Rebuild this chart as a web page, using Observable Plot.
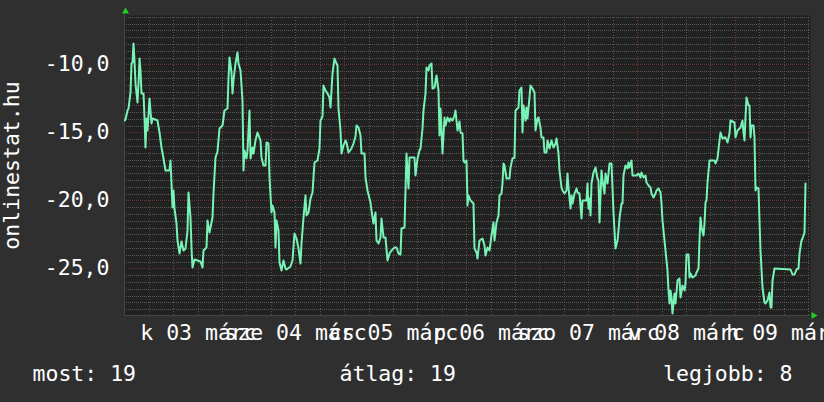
<!DOCTYPE html>
<html>
<head>
<meta charset="utf-8">
<script src="https://cdn.jsdelivr.net/npm/d3@7"></script>
<script src="https://cdn.jsdelivr.net/npm/@observablehq/plot@0.6"></script>
<style>
  html, body { margin: 0; padding: 0; background: #2f2f2f; }
  #chart { width: 824px; height: 402px; }
</style>
</head>
<body>
<div id="chart"></div>
<script>
// ---- data (hours since 2009-03-02 17:56 UTC, value) ----
const startMs = Date.UTC(2009, 2, 2, 17, 56);
const spanHours = 168.52;

const hours = [
  0.0, 0.25, 0.66, 1.07, 1.48, 1.72, 2.05, 2.30, 2.54, 2.70, 3.11, 3.36, 3.69, 3.93, 4.18, 4.75, 5.00, 5.16, 5.41, 5.73,
  6.23, 6.55, 6.96, 8.19, 8.68, 9.01, 9.50, 10.07, 11.06, 11.30, 11.71, 11.96, 12.37, 12.78, 13.10, 13.59, 14.00, 14.41, 14.99, 15.40,
  15.81, 16.21, 16.46, 16.79, 17.20, 18.67, 19.08, 19.49, 20.06, 20.47, 20.96, 21.54, 21.95, 22.36, 22.93, 23.42, 23.99, 24.57, 25.22, 25.63,
  25.88, 26.20, 26.45, 26.86, 27.27, 27.68, 28.09, 28.50, 28.91, 29.15, 29.48, 29.97, 30.30, 30.63, 30.95, 31.36, 31.77, 32.18, 32.59,
  33.33, 33.74, 34.15, 34.72, 34.97, 35.38, 35.62, 36.03, 36.36, 36.77, 37.01, 37.42, 37.83, 38.08, 38.65, 39.06, 39.47, 39.88, 40.70, 41.27,
  41.76, 42.34, 42.75, 43.16, 43.56, 43.97, 44.38, 44.79, 45.20, 45.61, 46.18, 46.68, 47.49, 47.82, 48.07, 48.64, 48.97, 49.46, 49.87, 50.28,
  50.69, 51.10, 51.59, 52.00, 52.41, 52.57, 52.98, 53.23, 53.80, 54.21, 54.62, 55.03, 55.68, 56.26, 56.67, 57.07, 57.48, 57.89, 58.30, 58.96,
  59.28, 59.78, 60.35, 60.76, 61.17, 61.58, 61.99, 62.40, 62.89, 63.22, 63.71, 64.20, 64.53, 65.02, 65.67, 66.33,
  66.83, 67.24, 67.81, 68.06, 68.88, 69.29, 69.70, 69.94, 71.33, 71.58, 71.99, 72.40, 72.73, 73.13, 73.54, 73.87, 74.20, 74.61, 75.02, 75.35,
  75.67, 76.25, 76.66, 77.07, 77.31, 77.64, 77.97, 78.21, 78.54, 78.95, 79.36, 79.77, 80.18, 80.59, 81.00, 81.40, 81.81, 82.22, 82.63, 82.96,
  83.21, 83.62, 84.02, 84.27, 84.60, 85.01, 85.66, 86.07, 86.48, 86.81, 87.30, 87.96, 88.53, 88.77, 89.10, 89.59, 90.17, 90.58, 90.98, 91.39,
  91.80, 92.05, 92.62, 92.87, 93.03, 93.44, 93.85, 94.51, 94.83, 95.32, 95.73, 96.14, 96.72, 97.13, 97.53, 97.78, 98.11, 98.44, 98.76, 99.09,
  99.42, 99.75, 100.24, 100.73,
  100.98, 101.38, 101.71, 102.12, 102.53, 102.94, 103.19, 103.60, 104.01, 104.41, 104.82, 105.40, 105.81, 106.22, 106.63, 106.95, 107.28, 107.69,
  108.10, 108.51, 108.92, 109.16, 109.49, 109.82, 110.15, 110.56, 110.97, 111.37, 111.78, 112.19, 112.60, 113.42, 113.67, 113.99, 114.24, 114.49,
  114.81, 115.30, 115.71, 116.12, 116.45, 116.70, 117.11, 117.52, 117.84, 118.17, 118.58, 118.91, 119.24, 119.73, 120.05, 120.38, 120.71, 121.04,
  121.36, 121.69, 122.02, 122.43, 122.67, 123.08, 123.49, 123.82, 124.07, 124.48, 124.88, 125.70, 126.36, 126.77, 127.10, 127.50, 127.91, 128.32,
  128.73, 129.14, 129.55, 129.96, 130.37, 130.78, 131.19, 131.60, 131.93, 132.17, 132.50, 132.91, 133.32, 133.65, 133.89, 134.14, 134.47,
  134.64, 135.05, 135.46, 135.87, 136.28, 136.69, 137.10, 137.51, 137.92, 138.16, 138.49, 138.73, 139.14, 139.55, 140.21, 140.62, 141.03, 141.35,
  141.60, 141.85, 142.17, 142.42, 142.66, 142.99, 143.24, 143.65, 144.87, 145.28, 145.69, 146.10, 146.51, 146.92, 147.33, 147.74, 148.15, 148.56,
  148.97, 149.79, 150.20, 150.61, 151.02, 151.43, 151.83, 152.16, 152.41, 152.65, 152.90, 153.23, 153.47, 153.80, 154.05, 154.45, 154.70, 154.95,
  155.27, 155.68, 155.93, 156.34, 156.75, 157.16, 157.57, 157.98, 158.39, 158.63, 158.96, 159.20, 159.61, 163.71, 164.12, 164.53, 165.10, 165.59,
  165.92, 166.25, 166.57, 166.98, 167.23, 167.39
];

const values = [
  -14.1, -14.04, -13.36, -13.24, -12.0, -9.93, -9.8, -8.46, -9.7, -11.4, -12.75, -11.4, -9.56, -10.4, -12.13, -12.13, -13.85, -16.05, -13.97, -14.83,
  -12.5, -14.34, -13.97, -14.1, -14.95, -16.05, -16.9, -17.77, -17.77, -17.03, -20.47, -19.24, -20.6, -21.7, -22.9, -23.9, -23.0, -23.65, -23.53, -22.2,
  -19.36, -21.2, -23.4, -24.93, -24.34, -24.44, -24.93, -23.65, -23.4, -21.45, -22.3, -21.2, -19.49, -16.8, -16.4, -14.7, -14.46, -13.36, -13.24, -11.03,
  -9.44, -10.54, -12.13, -11.15, -9.93, -9.07, -9.93, -10.42, -12.62, -17.77, -16.3, -16.9, -16.3, -13.36, -16.9, -16.05, -16.54, -15.56, -14.95,
  -15.56, -16.79, -17.4, -17.4, -15.69, -15.8, -18.26, -20.83, -20.34, -20.83, -23.4, -21.45, -22.18, -24.5, -25.12, -24.39, -25.0, -25.07, -24.83, -24.39,
  -22.43, -22.8, -23.53, -24.63, -23.16, -21.2, -19.6, -21.08, -20.83, -19.85, -19.36, -17.16, -17.03, -16.18, -14.1, -13.8, -11.52, -11.9, -12.13, -12.38,
  -13.11, -10.66, -9.56, -9.93, -10.05, -13.24, -14.83, -16.54, -15.93, -15.56, -15.69, -16.42, -16.18, -15.8, -15.3, -14.46, -14.58, -15.2, -16.54, -16.54,
  -18.26, -19.24, -20.1, -20.7, -21.7, -20.83, -22.9, -23.16, -22.67, -21.3, -22.67, -22.67, -24.39, -23.9, -23.65, -23.46,
  -23.4, -23.9, -23.95, -22.06, -21.94, -16.54, -19.12, -16.79, -16.79, -18.14, -16.91, -16.3, -16.18, -14.7, -13.36, -12.13, -10.17, -10.42, -10.05, -9.93,
  -11.76, -11.64, -10.78, -11.89, -15.2, -13.24, -14.83, -16.54, -13.85, -14.46, -13.85, -14.2, -13.97, -14.1, -13.73, -13.36, -14.83, -14.2, -14.95, -15.07,
  -17.03, -17.16, -17.03, -20.34, -19.6, -19.98, -20.22, -23.53, -23.77, -24.26, -22.9, -22.79, -23.28, -24.02, -23.4, -23.65, -22.55, -21.57, -22.9, -21.57,
  -21.08, -19.6, -19.49, -18.75, -17.28, -17.4, -18.38, -18.38, -17.52, -16.91, -16.79, -13.36, -13.11, -11.89, -11.64, -14.95, -12.99, -14.1, -13.11, -13.97,
  -12.38, -11.52, -11.76, -12.0,
  -14.83, -13.97, -13.85, -14.58, -15.32, -15.32, -16.42, -16.42, -15.56, -16.18, -15.56, -16.05, -15.8, -15.44, -16.54, -17.77, -19.0, -19.24,
  -19.49, -19.24, -18.01, -19.0, -20.59, -19.61, -20.22, -19.49, -19.12, -19.36, -19.49, -21.32, -19.98, -19.98, -18.75, -20.59, -19.85, -21.08,
  -18.75, -17.89, -17.52, -18.38, -18.5, -21.57, -17.77, -18.5, -19.49, -18.01, -18.75, -18.01, -17.28, -17.23, -20.83, -22.18, -23.53, -22.9,
  -22.18, -21.32, -20.22, -20.22, -18.14, -17.4, -17.65, -17.16, -17.52, -17.03, -18.14, -18.14, -18.01, -18.26, -17.89, -18.26, -18.14, -18.63,
  -18.87, -19.0, -19.49, -19.73, -19.49, -19.24, -19.12, -19.36, -20.22, -21.45, -22.18, -23.65, -25.12, -26.6, -27.57, -26.6, -27.08,
  -28.3, -26.84, -27.57, -25.86, -25.74, -27.08, -26.23, -26.6, -26.1, -23.95, -23.95, -25.61, -25.37, -25.61, -25.49, -25.25, -25.0, -22.92,
  -21.2, -21.94, -22.55, -21.69, -20.1, -19.98, -18.63, -17.03, -17.03, -17.28, -16.91, -15.56, -14.95, -15.44, -15.32, -15.32, -15.69, -15.07,
  -14.1, -14.22, -15.32, -14.83, -14.71, -14.58, -14.09, -14.95, -15.56, -13.85, -12.38, -12.99, -12.99, -15.32, -14.46, -14.46, -15.32, -19.24,
  -19.0, -19.12, -21.45, -23.65, -26.35, -27.45, -27.57, -27.33, -26.72, -27.82, -27.82, -25.86, -25.0, -25.07, -25.42, -25.44, -25.07, -25.0,
  -23.9, -22.92, -22.8, -22.3, -18.75, -18.75
];

const yTicks = [-10, -15, -20, -25];
const yTickLabels = ["-10,0", "-15,0", "-20,0", "-25,0"];
const xTickLabels = ["k 03 márc", "sze 04 márc", "cs 05 márc", "p 06 márc", "szo 07 márc", "v 08 márc", "h 09 márc"];
const yTitle = ["onlinestat.hu"];
const legendLabels = ["most: 19", "átlag: 19", "legjobb: 8"];
const yDomain = [-28.43, -6.375];

// ---- build ----
const endMs = startMs + spanHours * 3.6e6;
const start = new Date(startMs), end = new Date(endMs);
const data = hours.map((h, i) => ({t: new Date(startMs + h * 3.6e6), v: values[i]}));

const midnights = d3.utcDay.range(start, end).map(d => ({t: d}));
const noons = d3.utcDay.range(start, end).map(d => new Date(+d + 12 * 3.6e6)).filter(d => d < end);
const sixHours = d3.utcHour.every(6).range(start, end).filter(d => d.getUTCHours() !== 0).map(d => ({t: d}));
const minorY = d3.range(-28, -6.4, 0.5).filter(v => v % 5 !== 0);

const lineColor = "#78f3b6";
const gridColor = "#585858";
const majorColor = "#6a2e2e";

const chart = Plot.plot({
  width: 824,
  height: 402,
  marginTop: 15,
  marginBottom: 87,
  marginLeft: 124,
  marginRight: 14,
  style: {
    background: "#2f2f2f",
    color: "#ffffff",
    fontFamily: "'DejaVu Sans Mono', monospace",
    fontSize: "21.5px",
    overflow: "visible"
  },
  x: {
    type: "utc",
    domain: [start, end],
    round: true,
    ticks: noons,
    tickFormat: d => xTickLabels[noons.findIndex(n => +n === +d)],
    tickSize: 0,
    tickPadding: 9,
    label: null
  },
  y: {
    domain: yDomain,
    round: true,
    ticks: yTicks,
    tickFormat: d => yTickLabels[yTicks.indexOf(d)],
    tickSize: 0,
    tickPadding: 15,
    label: null
  },
  marks: [
    Plot.frame({fill: "#212121", stroke: null}),
    Plot.ruleY(minorY, {stroke: gridColor, strokeDasharray: "1,1"}),
    Plot.ruleX(sixHours, {x: "t", y1: yDomain[0], y2: yDomain[1], stroke: gridColor, strokeDasharray: "1,2"}),
    Plot.ruleY(yTicks, {stroke: majorColor, strokeDasharray: "1,1"}),
    Plot.ruleX(midnights, {x: "t", y1: yDomain[0], y2: yDomain[1], stroke: "#803434", strokeDasharray: "1,2"}),
    Plot.ruleX([{t: start}], {x: "t", y1: yDomain[0], y2: yDomain[1], stroke: "#444444"}),
    Plot.ruleY([yDomain[0]], {stroke: "#444444"}),
    Plot.line(data, {x: "t", y: "v", stroke: lineColor, strokeWidth: 2, clip: true}),
    Plot.dot([0], {frameAnchor: "top-left", symbol: "triangle", r: 2.6, fill: "#1fd11f", stroke: null, dx: 1, dy: -4}),
    Plot.dot([0], {frameAnchor: "bottom-right", symbol: "triangle", r: 2.6, fill: "#1fd11f", stroke: null, rotate: 90, dx: 3, dy: 0}),
    Plot.text(yTitle, {frameAnchor: "left", rotate: -90, dx: -112.5, textAnchor: "middle", fill: "#ffffff"}),
    Plot.text([legendLabels[0]], {frameAnchor: "bottom-left", textAnchor: "start", dx: -92, dy: 65, fill: "#ffffff"}),
    Plot.text([legendLabels[1]], {frameAnchor: "bottom-left", textAnchor: "start", dx: 215, dy: 65, fill: "#ffffff"}),
    Plot.text([legendLabels[2]], {frameAnchor: "bottom-right", textAnchor: "end", dx: -18, dy: 65, fill: "#ffffff"})
  ]
});
document.getElementById("chart").appendChild(chart);
</script>
</body>
</html>
